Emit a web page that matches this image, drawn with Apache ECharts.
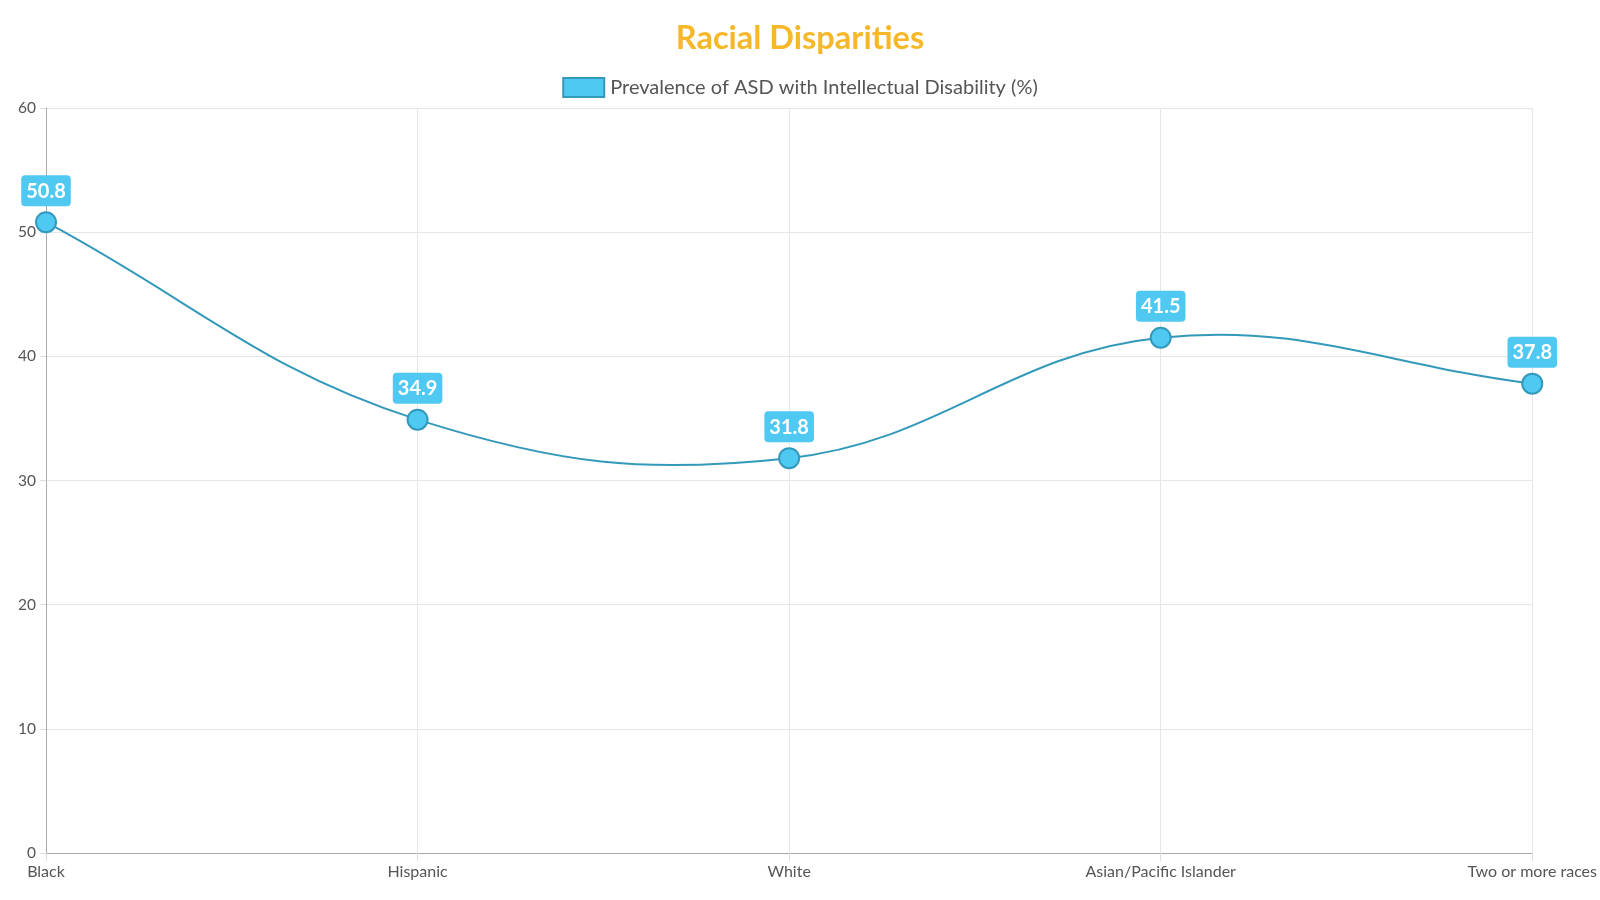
<!DOCTYPE html>
<html><head><meta charset="utf-8">
<script src="https://cdn.jsdelivr.net/npm/echarts@6/dist/echarts.min.js"></script>
<style>html,body{margin:0;padding:0;background:#fff}#c{width:1600px;height:900px}</style>
</head><body><div id="c"></div>
<script>
const categories = ['Black', 'Hispanic', 'White', 'Asian/Pacific Islander', 'Two or more races'];
const values = [50.8, 34.9, 31.8, 41.5, 37.8];
const seriesName = 'Prevalence of ASD with Intellectual Disability (%)';
const titleText = 'Racial Disparities';
const tension = 0.4;

// Chart.js style spline drawn through the library's own coordinate system
function renderCurve(params, api) {
  if (params.dataIndex !== 0) return null;
  const pts = values.map((v, i) => api.coord([i, v]));
  const n = pts.length;
  const cps = pts.map((p, i) => {
    const prev = pts[Math.max(0, i - 1)], next = pts[Math.min(n - 1, i + 1)];
    const d01 = Math.hypot(p[0] - prev[0], p[1] - prev[1]);
    const d12 = Math.hypot(next[0] - p[0], next[1] - p[1]);
    let s01 = d01 / (d01 + d12), s12 = d12 / (d01 + d12);
    if (isNaN(s01)) s01 = 0; if (isNaN(s12)) s12 = 0;
    const fa = tension * s01, fb = tension * s12;
    return {
      prev: [p[0] - fa * (next[0] - prev[0]), p[1] - fa * (next[1] - prev[1])],
      next: [p[0] + fb * (next[0] - prev[0]), p[1] + fb * (next[1] - prev[1])]
    };
  });
  let d = 'M' + pts[0][0] + ' ' + pts[0][1];
  for (let i = 1; i < n; i++) {
    const a = cps[i - 1].next, b = cps[i].prev;
    d += ' C' + a[0] + ' ' + a[1] + ' ' + b[0] + ' ' + b[1] + ' ' + pts[i][0] + ' ' + pts[i][1];
  }
  return {
    type: 'path', shape: { pathData: d },
    style: { fill: null, stroke: '#3399bb', lineWidth: 2 }
  };
}

const chart = echarts.init(document.getElementById('c'));
chart.setOption({
  animation: false,
  textStyle: { fontFamily: 'Lato' },
  title: {
    text: titleText, left: 'center', top: 17,
    textStyle: { fontFamily: 'Lato', fontSize: 32.5, fontWeight: 'bold', color: '#f6b82a' }
  },
  legend: {
    top: 72, left: 'center', itemWidth: 41, itemHeight: 19, itemGap: 10,
    data: [{ name: seriesName, icon: 'rect', itemStyle: { color: '#4fc8f2', borderColor: '#3399bb', borderWidth: 2 } }],
    textStyle: { fontFamily: 'Lato', fontSize: 20, color: '#555', padding: [0, 0, 0, 1] }
  },
  grid: { left: 46, right: 67, top: 108, bottom: 47, containLabel: false },
  xAxis: {
    type: 'category', data: categories, boundaryGap: false,
    axisLine: { lineStyle: { color: '#aaa' } },
    axisTick: { show: true, length: 8, lineStyle: { color: '#ddd' } },
    splitLine: { show: true, lineStyle: { color: '#e6e6e6' } },
    axisLabel: { fontFamily: 'Lato', fontSize: 16, color: '#555', margin: 11, interval: 0 }
  },
  yAxis: {
    type: 'value', min: 0, max: 60, interval: 10,
    axisLine: { show: true, lineStyle: { color: '#aaa' } },
    axisTick: { show: true, length: 6, lineStyle: { color: '#ddd' } },
    splitLine: { show: true, lineStyle: { color: '#e6e6e6' } },
    axisLabel: { fontFamily: 'Lato', fontSize: 15.5, color: '#555', margin: 10 }
  },
  series: [
    {
      name: 'curve', type: 'custom', z: 1, silent: true,
      data: values.map((v, i) => [i, v]),
      encode: { x: 0, y: 1 },
      renderItem: renderCurve
    },
    {
      name: seriesName, type: 'line', data: values, z: 3,
      symbol: 'circle', symbolSize: 20,
      lineStyle: { width: 0, opacity: 0 },
      itemStyle: { color: '#4fc8f2', borderColor: '#3399bb', borderWidth: 2 },
      label: {
        show: true, position: 'top', distance: 5,
        backgroundColor: '#4fc8f2', borderRadius: 4, padding: [6, 5, 5, 5],
        color: '#fff', fontFamily: 'Lato', fontWeight: 'bold', fontSize: 20
      }
    }
  ]
});
</script></body></html>
